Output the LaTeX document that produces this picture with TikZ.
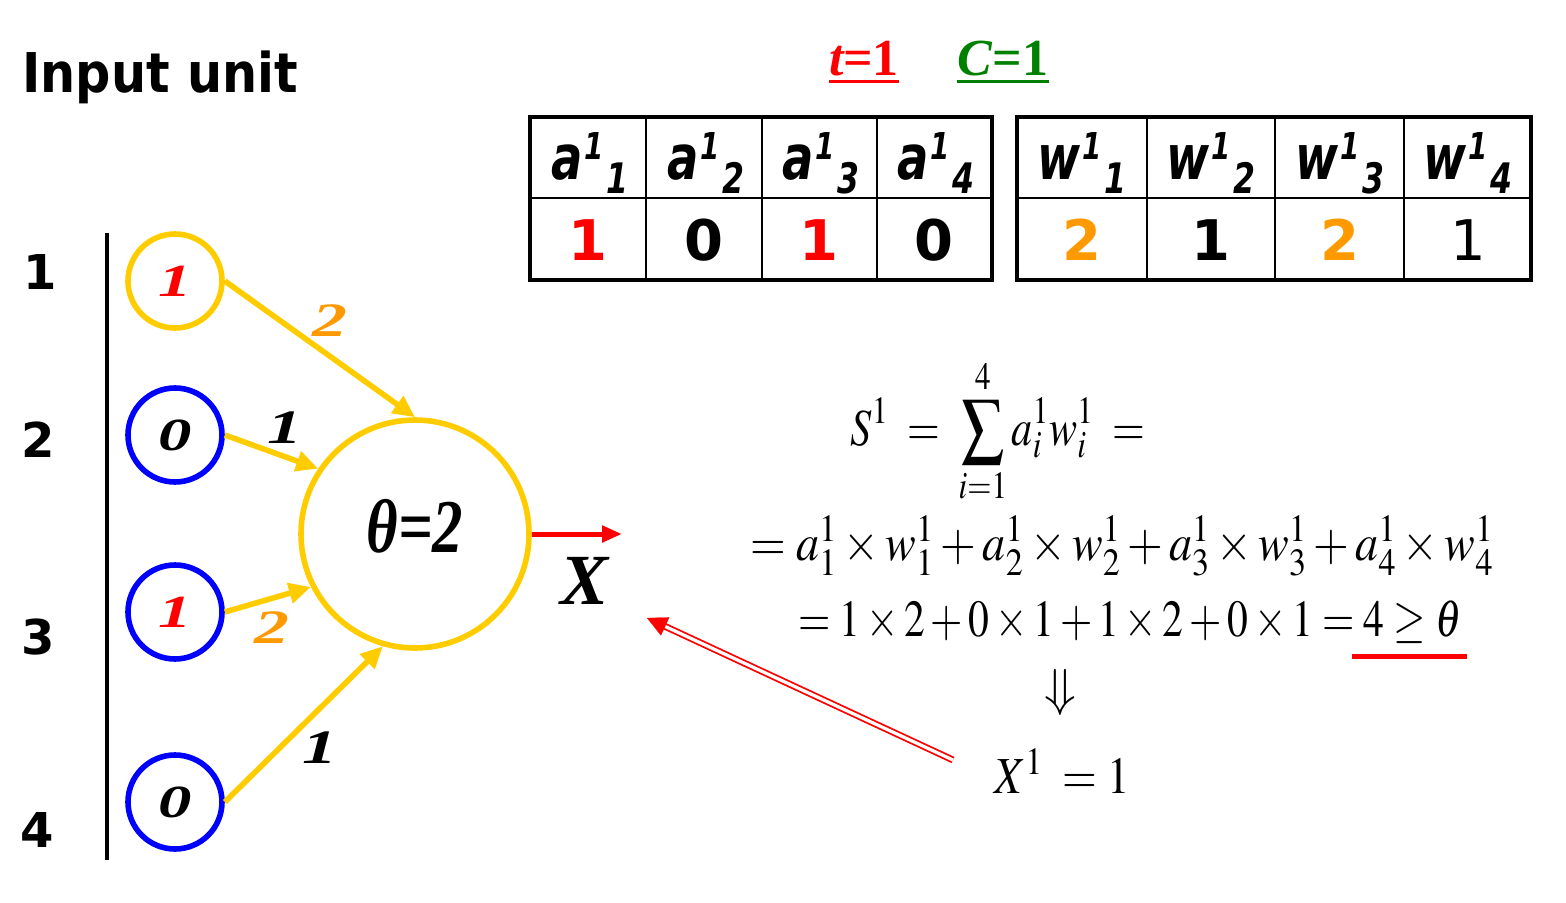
\documentclass[tikz,border=0pt]{standalone}
\usepackage{mathptmx}
\usepackage{fontspec}
\usetikzlibrary{arrows.meta,calc}
\newfontfamily\vsans{DejaVu Sans}
\newfontfamily\tms{Liberation Serif}
\definecolor{ylw}{RGB}{255,204,0}
\definecolor{org}{RGB}{255,153,0}
\definecolor{grn}{RGB}{0,128,0}
\newcommand\hdrcell[2]{\scalebox{0.75}[1]{\fontsize{31}{31}\vsans\bfseries\itshape #1\hspace{1pt}\raisebox{10pt}{\fontsize{18.5}{18.5}\selectfont 1}\hspace{2pt}\raisebox{-7pt}{\fontsize{21}{21}\selectfont #2}}}
\newcommand\wide[1]{\scalebox{1.45}[1]{#1}}
\begin{document}
\begin{tikzpicture}[x=0.5pt,y=-0.5pt,
  inunit/.style={circle,draw,line width=2.8pt,minimum size=47pt,inner sep=0pt},
  wire/.style={draw=ylw,line width=2.8pt,-{Triangle[length=11pt,width=10pt]}},
  wlab/.style={inner sep=0pt,font=\fontsize{24}{24}\tms\bfseries\itshape},
  clab/.style={font=\fontsize{23}{23}\tms\bfseries\itshape},
  rowlab/.style={inner sep=0pt,font=\fontsize{24}{24}\vsans\bfseries},
  val/.style={anchor=base,inner sep=0pt,font=\fontsize{28}{28}\vsans\bfseries},
  hd/.style={anchor=base,inner sep=0pt},
  eq/.style={anchor=base,inner sep=0pt,font=\fontsize{26}{26}\selectfont},
  tbout/.style={line width=2pt},
  tbin/.style={line width=0.75pt}
]
\useasboundingbox (0,0) rectangle (1566,903);

% title
\node[anchor=base west,inner sep=0pt,font=\fontsize{27.4}{27.4}\vsans\bfseries] (title) at (22,93) {\scalebox{0.9}[1]{Input unit}};

% row numbers and bar
\node[rowlab] (r1) at (40,272) {1};
\node[rowlab] (r2) at (38,440) {2};
\node[rowlab] (r3) at (38,637) {3};
\node[rowlab] (r4) at (37,830) {4};
\coordinate (barT) at (107,233);
\coordinate (barB) at (107,860);
\draw[line width=2pt] (barT) -- (barB);

% input units
\node[inunit,draw=ylw] (c1) at (175,281) {};
\node[inunit,draw=blue] (c2) at (175,435) {};
\node[inunit,draw=blue] (c3) at (175,612) {};
\node[inunit,draw=blue] (c4) at (175,802) {};
\node[clab,red] (l1) at (c1) {\wide{1}};
\node[clab] (l2) at (c2) {\wide{0}};
\node[clab,red] (l3) at (c3) {\wide{1}};
\node[clab] (l4) at (c4) {\wide{0}};

% threshold unit
\node[circle,draw=ylw,line width=2.8pt,minimum size=114pt,inner sep=0pt] (big) at (415,534) {};
\node[inner sep=0pt,font=\fontsize{38}{38}\tms\bfseries\itshape] (th) at (415,526) {\scalebox{0.8}[1]{θ=2}};

% weighted connections
\draw[wire] (c1.east) -- (big.north);
\draw[wire] (c2.east) -- (big.146);
\draw[wire] (c3.east) -- (big.207);
\draw[wire] (c4.east) -- (big.254);
\node[wlab,org] (w1) at (330,321) {\wide{2}};
\node[wlab] (w2) at (285,428) {\wide{1}};
\node[wlab,org] (w3) at (272,628) {\wide{2}};
\node[wlab] (w4) at (320,748) {\wide{1}};

% output
\coordinate (xo) at (622,534);
\draw[red,line width=2.5pt,-{Triangle[length=10pt,width=8pt]}] (big.east) -- (xo);
\node[inner sep=0pt,font=\fontsize{36}{36}\tms\bfseries\itshape] (X) at (585,581) {X};

% t and C
\node[anchor=base west,inner sep=0pt,red,font=\fontsize{26}{26}\tms\bfseries] (tt) at (829,76) {\textit{t}\hspace{-1pt}=1};
\draw[red,line width=1.5pt] ([yshift=-3pt]tt.base west) -- ([yshift=-3pt]tt.base east);
\node[anchor=base west,inner sep=0pt,grn,font=\fontsize{26}{26}\tms\bfseries] (cc) at (957,76) {\textit{C}=1};
\draw[grn,line width=1.5pt] ([yshift=-3pt]cc.base west) -- ([yshift=-3pt]cc.base east);

% table a
\draw[tbin] (530,198) -- (992,198);
\draw[tbin] (646,117) -- (646,280);
\draw[tbin] (762,117) -- (762,280);
\draw[tbin] (877,117) -- (877,280);
\draw[tbout] (530,117) rectangle (992,280);
\node[hd] (ha1) at (590,180) {\hdrcell{a}{1}};
\node[hd] (ha2) at (706,180) {\hdrcell{a}{2}};
\node[hd] (ha3) at (821,180) {\hdrcell{a}{3}};
\node[hd] (ha4) at (936,180) {\hdrcell{a}{4}};
\node[val,red] (va1) at (588,261) {1};
\node[val] (va2) at (704,261) {0};
\node[val,red] (va3) at (819,261) {1};
\node[val] (va4) at (934,261) {0};

% table w
\draw[tbin] (1017,198) -- (1531,198);
\draw[tbin] (1147,117) -- (1147,280);
\draw[tbin] (1275,117) -- (1275,280);
\draw[tbin] (1404,117) -- (1404,280);
\draw[tbout] (1017,117) rectangle (1531,280);
\node[hd] (hw1) at (1082,180) {\hdrcell{w}{1}};
\node[hd] (hw2) at (1211,180) {\hdrcell{w}{2}};
\node[hd] (hw3) at (1340,180) {\hdrcell{w}{3}};
\node[hd] (hw4) at (1468,180) {\hdrcell{w}{4}};
\node[val,org] (vw1) at (1082,261) {2};
\node[val] (vw2) at (1211,261) {1};
\node[val,org] (vw3) at (1340,261) {2};
\node[val,font=\fontsize{28}{28}\vsans] (vw4) at (1468,261) {1};

% equations
\node[eq] (e1) at (998,445) {\scalebox{0.81}[1]{$\displaystyle S^1 \;=\; \sum_{i=1}^{4} a_i^1 w_i^1 \;=$}};
\node[eq] (e2) at (1122,560) {\scalebox{0.884}[1]{$=a_1^1\times w_1^1+a_2^1\times w_2^1+a_3^1\times w_3^1+a_4^1\times w_4^1$}};
\node[eq] (e3) at (1130,636) {\scalebox{0.80}[1]{$=1\times 2+0\times 1+1\times 2+0\times 1=4\geq\theta$}};
\node[eq,anchor=center] (e4) at (1060,692) {$\Downarrow$};
\node[eq] (e5) at (1062,793) {\scalebox{0.86}[1]{$X^1\;=1$}};
\coordinate (ulA) at (1352,656);
\coordinate (ulB) at (1467,656);
\draw[red,line width=2.5pt] (ulA) -- (ulB);

% double arrow to X
\coordinate (dA) at (953,760);
\coordinate (dB) at (647,618);
\draw[red,double,line width=0.9pt,double distance=1.6pt] (dA) -- ($(dB)!8pt!(dA)$);
\draw[red,line width=0.1pt,-{Triangle[length=10pt,width=10pt]}] ($(dB)!10pt!(dA)$) -- (dB);
\end{tikzpicture}
\end{document}
